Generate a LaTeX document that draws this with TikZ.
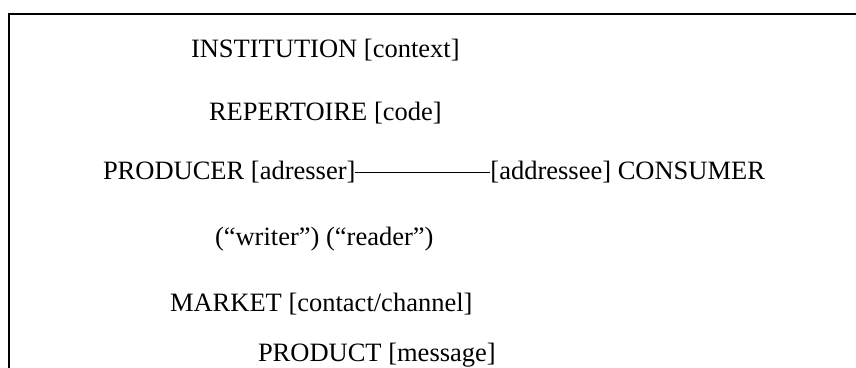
\documentclass[tikz,border=0pt]{standalone}
\usepackage{fontspec}
\setmainfont{Liberation Serif}
\begin{document}
\begin{tikzpicture}[x=1pt,y=-1pt,
  lbl/.style={anchor=base west, inner sep=0pt, outer sep=0pt, font=\fontsize{26.5}{30}\selectfont},
  frame/.style={line width=2pt, line cap=rect}]
\useasboundingbox (0,0) rectangle (856,367);
% frame (cut off at right and bottom)
\draw[frame] (856,14) -- (9,14) -- (9,367);
\node[lbl] (inst) at (191,57.5) {INSTITUTION [context]};
\node[lbl] (rep) at (209,120) {REPERTOIRE [code]};
\node[lbl] (prod) at (103,179.3) {PRODUCER [adresser]};
\node[lbl, anchor=base east] (cons) at (765,179.3) {[addressee] CONSUMER};
\node[lbl] (wr) at (215,245) {(“writer”) (“reader”)};
\node[lbl] (mkt) at (170,311) {MARKET [contact/channel]};
\node[lbl] (pdt) at (258,361) {PRODUCT [message]};
\draw[line width=1.3pt] (prod.east |- 0,172.3) -- (cons.west |- 0,172.3);
\end{tikzpicture}
\end{document}
